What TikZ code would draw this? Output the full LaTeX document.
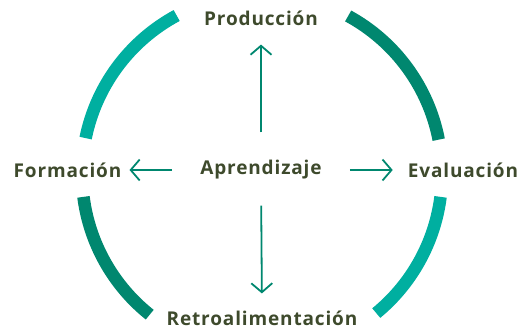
\documentclass[tikz,border=0pt]{standalone}
\usepackage{fontspec}
\setmainfont{Open Sans}[LetterSpace=4.5]
\usetikzlibrary{arrows.meta}
\definecolor{lightteal}{HTML}{00AFA0}
\definecolor{darkteal}{HTML}{00876F}
\definecolor{olive}{HTML}{3E4A2C}
\tikzset{
    label/.style={inner sep=0pt, text=olive, font=\fontsize{19}{22}\selectfont\bfseries},
    flow/.style={darkteal, line width=1.8pt,
        -{Straight Barb[length=9pt, width=21pt, line width=1.8pt]}},
    ring/.style={line width=12.5pt},
}

\begin{document}
\begin{tikzpicture}[x=1pt, y=1pt]
    \useasboundingbox (0, 0) rectangle (522, 334);
    \coordinate (c) at (262, 160);
    % ring segments
    \foreach \a/\b/\col in {118.3/168.5/lightteal, 61.4/11/darkteal,
        187.3/231.4/darkteal, -7.3/-50.6/lightteal}
        \draw[ring, \col] ([shift={(\a:180)}]c) arc[start angle=\a,
            end angle=\b, radius=180];
    \node[label] (apr) at (261, 164) {Aprendizaje};
    \node[label] (prod) at (261, 316) {Producción};
    \node[label] (form) at (67.5, 164) {Formación};
    \node[label] (eval) at (463, 164) {Evaluación};
    \node[label] (retro) at (262, 16) {Retroalimentación};
    \draw[flow, shorten <=28pt, shorten >=19pt] (apr.north) -- (prod.south);
    \draw[flow, shorten <=26pt, shorten >=17pt] (apr.south) -- (retro.north);
    \draw[flow, shorten <=28pt, shorten >=8pt] (apr.west) -- (form.east);
    \draw[flow, shorten <=28pt, shorten >=15pt] (apr.east) -- (eval.west);
\end{tikzpicture}
\end{document}
